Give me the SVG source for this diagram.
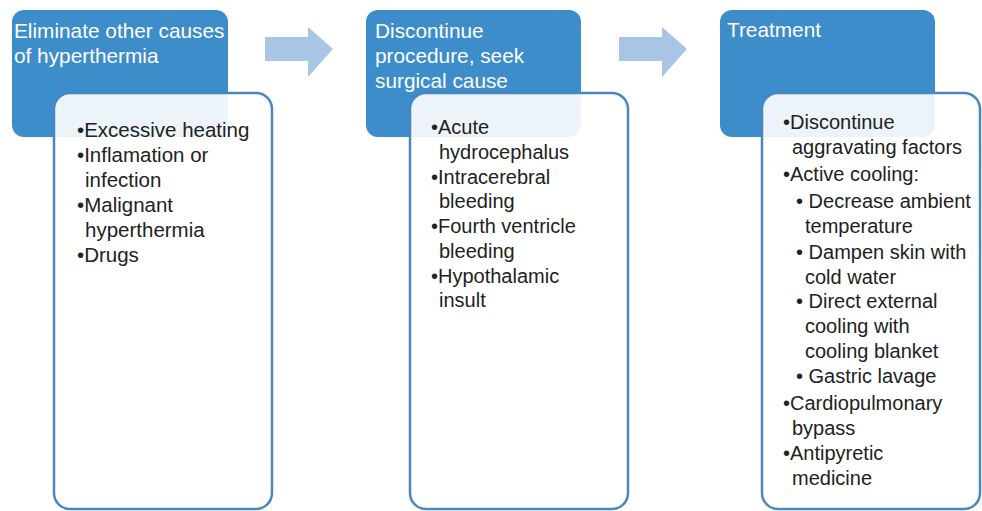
<svg xmlns="http://www.w3.org/2000/svg" width="982" height="511" viewBox="0 0 982 511">
<style>
.hdr{fill:#3d8dcb}
.card{fill:#ffffff;fill-opacity:0.9;stroke:#4a86c0;stroke-width:2.5}
.arr{fill:#a8c5e5}
.ht{font-family:"Liberation Sans",Arial,sans-serif;font-size:20.8px;fill:#ffffff}
.bt{font-family:"Liberation Sans",Arial,sans-serif;font-size:20px;fill:#222222}
.b1{font-size:20.5px}
</style>
<rect width="982" height="511" fill="#ffffff"/>
<g id="connectors">
<path class="arr" d="M265,37 H308 V27 L333,49 L308,77 V61 H265 Z"/>
<path class="arr" d="M619,37 H662 V27 L687,49 L662,77 V61 H619 Z"/>
</g>
<g id="step1">
<rect class="hdr" x="12" y="10" width="216" height="127" rx="12"/>
<text class="ht" x="14" y="38">Eliminate other causes</text>
<text class="ht" x="14" y="63">of hyperthermia</text>
<rect class="card" x="54" y="93" width="218" height="416" rx="16"/>
<text class="bt b1" x="77" y="137">•Excessive heating</text>
<text class="bt b1" x="77" y="162">•Inflamation or</text>
<text class="bt b1" x="85" y="187">infection</text>
<text class="bt b1" x="77" y="212">•Malignant</text>
<text class="bt b1" x="85" y="237">hyperthermia</text>
<text class="bt b1" x="77" y="262">•Drugs</text>
</g>
<g id="step2">
<rect class="hdr" x="366" y="10" width="215" height="127" rx="12"/>
<text class="ht" x="375" y="38">Discontinue</text>
<text class="ht" x="375" y="63">procedure, seek</text>
<text class="ht" x="375" y="88">surgical cause</text>
<rect class="card" x="410" y="93" width="218" height="416" rx="16"/>
<text class="bt" x="431" y="134">•Acute</text>
<text class="bt" x="439" y="159">hydrocephalus</text>
<text class="bt" x="431" y="184">•Intracerebral</text>
<text class="bt" x="439" y="208">bleeding</text>
<text class="bt" x="431" y="233">•Fourth ventricle</text>
<text class="bt" x="439" y="258">bleeding</text>
<text class="bt" x="431" y="283">•Hypothalamic</text>
<text class="bt" x="439" y="307">insult</text>
</g>
<g id="step3">
<rect class="hdr" x="720" y="10" width="215" height="127" rx="12"/>
<text class="ht" x="727" y="37">Treatment</text>
<rect class="card" x="762" y="93" width="218" height="416" rx="16"/>
<text class="bt" x="783" y="129">•Discontinue</text>
<text class="bt" x="792" y="154">aggravating factors</text>
<text class="bt" x="783" y="181">•Active cooling:</text>
<text class="bt" x="796" y="208">• Decrease ambient</text>
<text class="bt" x="805" y="233">temperature</text>
<text class="bt" x="796" y="259">• Dampen skin with</text>
<text class="bt" x="805" y="284">cold water</text>
<text class="bt" x="796" y="308">• Direct external</text>
<text class="bt" x="805" y="333">cooling with</text>
<text class="bt" x="805" y="358">cooling blanket</text>
<text class="bt" x="796" y="383">• Gastric lavage</text>
<text class="bt" x="783" y="410">•Cardiopulmonary</text>
<text class="bt" x="792" y="435">bypass</text>
<text class="bt" x="783" y="460">•Antipyretic</text>
<text class="bt" x="792" y="485">medicine</text>
</g>
</svg>
